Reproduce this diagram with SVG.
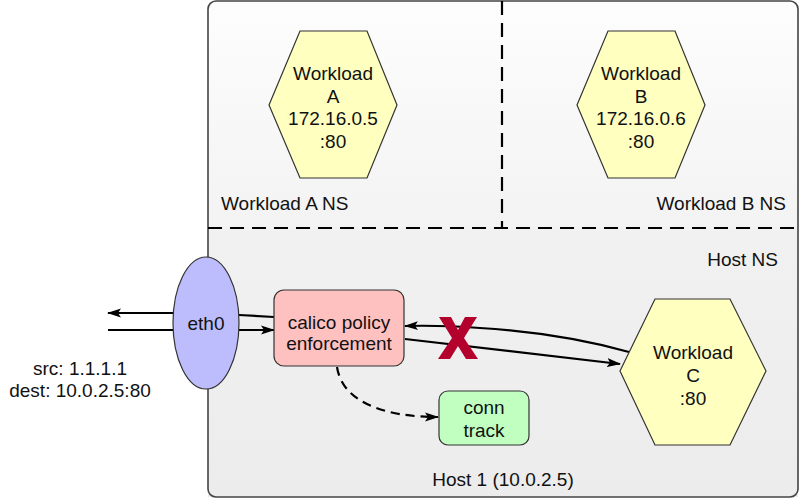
<svg xmlns="http://www.w3.org/2000/svg" width="800" height="498" viewBox="0 0 800 498">
  <defs>
    <linearGradient id="nsTop" x1="0" y1="0" x2="0" y2="1">
      <stop offset="0" stop-color="#fdfdfd"/>
      <stop offset="1" stop-color="#f3f3f3"/>
    </linearGradient>
    <linearGradient id="nsHost" x1="0" y1="0" x2="0" y2="1">
      <stop offset="0" stop-color="#f1f1f1"/>
      <stop offset="1" stop-color="#ececec"/>
    </linearGradient>
    <marker id="arrowBig" viewBox="0 0 14 10" refX="13" refY="5" markerWidth="14" markerHeight="10" markerUnits="userSpaceOnUse" orient="auto">
      <path d="M0 0.5 L14 5 L0 9.5 L3 5 Z" fill="#000"/>
    </marker>
  </defs>
  <style>
    text { font-family: "Liberation Sans", Arial, sans-serif; fill: #111; }
    .lbl { font-size: 19px; }
    .node { font-size: 19px; text-anchor: middle; }
    .hex { fill: #ffffc0; stroke: #333; stroke-width: 1.2; }
    .edge { fill: none; stroke: #000; stroke-width: 2.2; }
    .sep { fill: none; stroke: #000; stroke-width: 2.2; stroke-dasharray: 14 8; }
  </style>

  <!-- host container with namespace regions -->
  <g id="host">
    <path d="M208 228 V9 Q208 1 216 1 H790 Q798 1 798 9 V228 Z" fill="url(#nsTop)"/>
    <path d="M208 228 H798 V497 H208 Z" fill="url(#nsHost)"/>
    <rect x="208" y="1" width="590" height="496" rx="8" ry="8" fill="none" stroke="#444" stroke-width="1.6"/>
    <line class="sep" x1="502" y1="1" x2="502" y2="228"/>
    <line class="sep" x1="208" y1="228" x2="798" y2="228"/>
    <text class="lbl" x="221" y="210">Workload A NS</text>
    <text class="lbl" x="786" y="210" text-anchor="end">Workload B NS</text>
    <text class="lbl" x="778" y="266" text-anchor="end">Host NS</text>
    <text class="lbl" x="503" y="486" text-anchor="middle">Host 1 (10.0.2.5)</text>
  </g>

  <!-- connectors -->
  <g id="connectors">
    <line class="edge" x1="174" y1="313" x2="108" y2="313" marker-end="url(#arrowBig)"/>
    <line class="edge" x1="108" y1="330" x2="174" y2="330"/>
    <line class="edge" x1="239" y1="315" x2="274" y2="317"/>
    <line class="edge" x1="239" y1="330" x2="274" y2="330" marker-end="url(#arrowBig)"/>
    <path class="edge" d="M629 352 Q560 333 480 328 Q440 325 405 326" marker-end="url(#arrowBig)"/>
    <path class="edge" d="M405 339 L620 364" marker-end="url(#arrowBig)"/>
    <path class="edge" d="M337 367 C342 400 380 417 438 417" stroke-dasharray="9 6" marker-end="url(#arrowBig)"/>
  </g>

  <!-- blocked flow marker -->
  <g id="blocked">
    <path d="M439 317 H451 L458 330 L465 317 H477 L464 338 L478 359 H466 L458 346 L450 359 H438 L452 338 Z" fill="#b3002d"/>
  </g>

  <g id="workload-a">
    <polygon class="hex" points="269,105 300,31 367,31 397,105 367,178 300,178"/>
    <text class="node" x="333" y="80">Workload</text>
    <text class="node" x="333" y="103">A</text>
    <text class="node" x="333" y="125">172.16.0.5</text>
    <text class="node" x="333" y="148">:80</text>
  </g>

  <g id="workload-b">
    <polygon class="hex" points="577,105 608,31 675,31 705,105 675,178 608,178"/>
    <text class="node" x="641" y="80">Workload</text>
    <text class="node" x="641" y="103">B</text>
    <text class="node" x="641" y="125">172.16.0.6</text>
    <text class="node" x="641" y="148">:80</text>
  </g>

  <g id="workload-c">
    <polygon class="hex" points="620,371 655,299 730,299 766,371 730,445 655,445"/>
    <text class="node" x="693" y="359">Workload</text>
    <text class="node" x="693" y="382">C</text>
    <text class="node" x="693" y="405">:80</text>
  </g>

  <g id="eth0">
    <ellipse cx="206" cy="323" rx="33" ry="66" fill="#bdbdfd" stroke="#333" stroke-width="1.2"/>
    <text class="node" x="206" y="330">eth0</text>
  </g>

  <g id="calico">
    <rect x="274" y="290" width="130" height="76" rx="10" ry="10" fill="#ffc0c0" stroke="#333" stroke-width="1.2"/>
    <text class="node" x="339" y="329">calico policy</text>
    <text class="node" x="339" y="350">enforcement</text>
  </g>

  <g id="conntrack">
    <rect x="439" y="391" width="90" height="54" rx="9" ry="9" fill="#c0ffc0" stroke="#333" stroke-width="1.2"/>
    <text class="node" x="484" y="414">conn</text>
    <text class="node" x="484" y="437">track</text>
  </g>

  <g id="packet">
    <text class="lbl" x="80" y="375" text-anchor="middle">src: 1.1.1.1</text>
    <text class="lbl" x="80" y="397" text-anchor="middle">dest: 10.0.2.5:80</text>
  </g>
</svg>
